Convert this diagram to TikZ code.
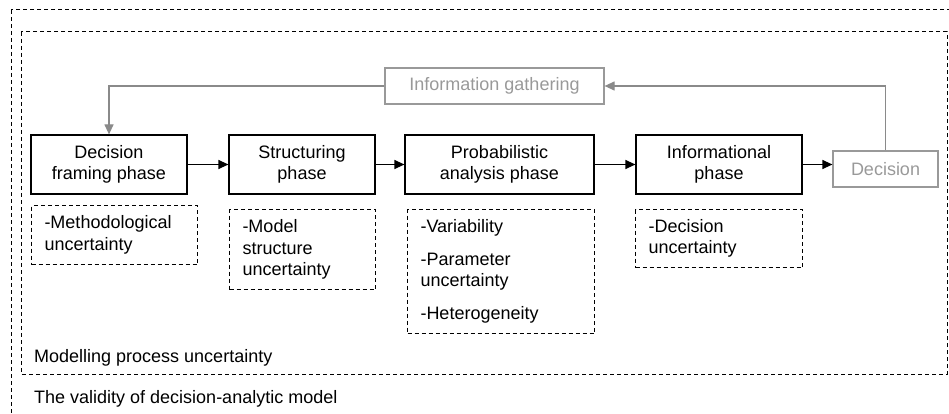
\documentclass[tikz,border=0pt]{standalone}
\usepackage{fontspec}
\setmainfont{Liberation Sans}
\usetikzlibrary{arrows.meta}
\definecolor{lightgrey}{HTML}{999999}
\definecolor{linegrey}{HTML}{8A8A8A}
\tikzset{
  basefont/.style={font=\fontsize{18}{21.5}\selectfont},
  phase/.style={basefont, draw, line width=1.2pt, align=center, minimum height=59pt, inner sep=0pt},
  greybox/.style={basefont, draw=lightgrey, text=lightgrey, line width=1.2pt, minimum height=36pt, inner sep=0pt},
  uncbox/.style={basefont, draw, dash pattern=on 4pt off 3pt, line width=1pt, anchor=north west, align=left, inner xsep=13pt, inner ysep=0pt},
  region/.style={dash pattern=on 4pt off 3pt, line width=1pt},
  fwd/.style={line width=1.2pt, -{Triangle[length=10pt,width=9pt]}},
  back/.style={line width=1.2pt, draw=linegrey, -{Triangle[length=10pt,width=9pt]}},
}

\begin{document}
\begin{tikzpicture}[x=1pt,y=-1pt]
		%%%%% START %%%%%
		
		\clip (0,0) rectangle (949,414);
		\draw[region] (11,10) rectangle (975,440);
		\draw[region] (21,32) rectangle (947,374);
		
		\node[phase, minimum width=156pt] (framing) at (109,164.5) {Decision\\framing phase};
		\node[phase, minimum width=146pt] (structuring) at (302,164.5) {Structuring\\phase};
		\node[phase, minimum width=189pt] (probabilistic) at (499.5,164.5) {Probabilistic\\analysis phase};
		\node[phase, minimum width=166pt] (informational) at (719,164.5) {Informational\\phase};
		
		\node[greybox, minimum width=105pt] (decision) at (885.5,169) {Decision};
		\node[greybox, minimum width=219pt] (gathering) at (494.5,86) {Information gathering};
		
		\draw[fwd] (framing) -- (structuring);
		\draw[fwd] (structuring) -- (probabilistic);
		\draw[fwd] (probabilistic) -- (informational);
		\draw[fwd] (informational) -- (informational -| decision.west);
		
		\draw[back] (decision.north) |- (gathering.east);
		\draw[back] (gathering.west) -| (framing.north);
		
		\node[uncbox, text width=140pt, minimum height=59pt] (methodological) at (31,205) {-Methodological\\uncertainty};
		\node[uncbox, text width=120pt, minimum height=80pt] (structural) at (229,209) {-Model\\structure\\uncertainty};
		\node[uncbox, text width=161pt, minimum height=124pt] (parametric) at (407,209) {-Variability\\[11pt]-Parameter\\uncertainty\\[11pt]-Heterogeneity};
		\node[uncbox, text width=141pt, minimum height=58pt] (decisional) at (635,209) {-Decision\\uncertainty};
		
		\node[basefont, anchor=west, inner sep=0pt] (modelling) at (34,358) {Modelling process uncertainty};
		\node[basefont, anchor=west, inner sep=0pt] (validity) at (34,399) {The validity of decision-analytic model};
		
		%%%%% END %%%%%
\end{tikzpicture}
\end{document}
